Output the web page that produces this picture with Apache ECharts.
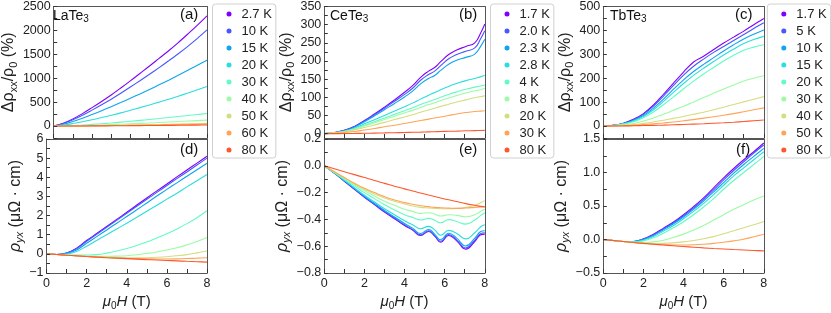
<!DOCTYPE html>
<html><head><meta charset="utf-8">
<script src="https://cdn.jsdelivr.net/npm/echarts@6/dist/echarts.min.js"></script>
<style>html,body{margin:0;padding:0;background:#fff}#c{width:831px;height:313px}</style>
</head><body><div id="c"></div>
<script>
// ---------- data ----------
const COLORS = ['#8000ff','#4757fb','#0ea4f0','#2bdddd','#63fbc3','#9cfba4','#d4dd80','#ffa457','#ff572c'];

const FIELD = [0,0.5,1,1.5,2,2.5,3,3.5,4,4.5,5,5.5,6,6.5,7,7.5,8];
const FIELD_CE = [0,0.5,1,1.5,2,2.5,3,3.5,4,4.4,4.8,5.2,5.5,5.8,6.2,6.6,7.05,7.5,7.8,8];

// LaTe3
const TEMPS_LA = ['2.7 K','10 K','15 K','20 K','30 K','40 K','50 K','60 K','80 K'];
const MR_LA_2p7 = [0,60,150,260,385,515,650,795,945,1100,1255,1415,1575,1745,1925,2110,2305];
const MR_LA_10  = [0,52,130,225,333,445,562,686,815,948,1083,1222,1365,1512,1667,1833,2010];
const MR_LA_15  = [0,38,95,163,240,320,403,490,580,672,766,862,960,1062,1166,1272,1378];
const MR_LA_20  = [0,20,52,90,132,177,225,275,330,385,442,500,560,625,690,757,826];
const MR_LA_30  = [0,4,12,22,35,49,64,81,99,118,138,158,180,200,220,241,262];
const MR_LA_40  = [0,1.5,5,10,15,22,30,38,46,55,64,74,84,94,104,114,124];
const MR_LA_50  = [0,0.6,2,4,7,10,13,17,21,25,29,33,38,42,47,51,56];
const MR_LA_60  = [0,0.5,2,3,5,7,9,11,14,17,20,23,26,29,33,36,40];
const MR_LA_80  = [0,0.2,1,2,3,4,5,6.5,8,9.5,11,12.5,14,16,18,20,22];

const HALL_LA_2p7 = [0,-0.03,0.05,0.3,0.7,1.06,1.43,1.8,2.17,2.55,2.92,3.29,3.65,4.02,4.38,4.74,5.1];
const HALL_LA_10  = [0,-0.03,0.04,0.27,0.66,1.02,1.39,1.75,2.12,2.49,2.85,3.21,3.57,3.93,4.28,4.64,5.0];
const HALL_LA_15  = [0,-0.03,0.02,0.2,0.55,0.9,1.25,1.6,1.95,2.3,2.66,3.02,3.37,3.71,4.05,4.39,4.73];
const HALL_LA_20  = [0,-0.035,-0.01,0.12,0.4,0.7,1.0,1.3,1.6,1.91,2.23,2.54,2.86,3.17,3.5,3.82,4.15];
const HALL_LA_30  = [0,-0.035,-0.06,-0.065,-0.06,-0.04,0.04,0.15,0.28,0.44,0.62,0.83,1.05,1.3,1.58,1.89,2.25];
const HALL_LA_40  = [0,-0.035,-0.065,-0.09,-0.11,-0.125,-0.13,-0.12,-0.1,-0.05,0.02,0.1,0.2,0.32,0.47,0.64,0.85];
const HALL_LA_50  = [0,-0.035,-0.07,-0.1,-0.13,-0.16,-0.185,-0.2,-0.21,-0.21,-0.2,-0.18,-0.15,-0.1,-0.04,0.05,0.15];
const HALL_LA_60  = [0,-0.035,-0.07,-0.1,-0.135,-0.165,-0.19,-0.215,-0.235,-0.25,-0.26,-0.265,-0.265,-0.26,-0.245,-0.225,-0.2];
const HALL_LA_80  = [0,-0.035,-0.07,-0.105,-0.14,-0.17,-0.2,-0.225,-0.25,-0.275,-0.3,-0.32,-0.345,-0.365,-0.39,-0.41,-0.43];

// CeTe3
const TEMPS_CE = ['1.7 K','2.0 K','2.3 K','2.8 K','4 K','8 K','20 K','30 K','80 K'];
const MR_CE_1p7 = [0,3,9,20,36,54,73,93,114,132,155,172,182,198,218,230,240,250,278,302];
const MR_CE_2p0 = [0,3,9,19,35,52,70,89,108,125,147,163,172,187,206,218,227,236,262,283];
const MR_CE_2p3 = [0,3,8,18,33,49,66,83,101,117,137,152,160,174,191,202,210,219,241,260];
const MR_CE_2p8 = [0,2,7,15,27,38,50,62,74,84,95,106,113,121,130,138,146,152,157,160];
const MR_CE_4   = [0,2,6,13,23,33,43,53,63,71,80,88,94,100,108,115,122,128,131,134];
const MR_CE_8   = [0,2,6,12,21,30,39,48,57,64,72,80,85,91,98,105,112,118,121,124];
const MR_CE_20  = [0,2,5,10,17,24,31,39,46,52,59,65,70,75,81,87,93,99,102,104];
const MR_CE_30  = [0,1,3,6,10,14,19,23,28,32,36,40,43,46,50,54,58,61,62,63];
const MR_CE_80  = [0,0.1,0.3,0.6,1,1.5,2,2.6,3.2,3.7,4.2,4.8,5.3,5.8,6.4,7,7.8,8.4,8.8,9];

const HALL_CE_1p7 = [0,-0.055,-0.115,-0.175,-0.235,-0.29,-0.345,-0.395,-0.445,-0.48,-0.52,-0.49,-0.525,-0.57,-0.52,-0.56,-0.622,-0.565,-0.515,-0.51];
const HALL_CE_2p0 = [0,-0.055,-0.113,-0.172,-0.232,-0.287,-0.34,-0.39,-0.44,-0.475,-0.515,-0.485,-0.52,-0.563,-0.513,-0.553,-0.613,-0.555,-0.505,-0.5];
const HALL_CE_2p3 = [0,-0.054,-0.11,-0.168,-0.227,-0.28,-0.333,-0.382,-0.43,-0.465,-0.505,-0.475,-0.51,-0.552,-0.503,-0.54,-0.598,-0.54,-0.49,-0.485];
const HALL_CE_2p8 = [0,-0.053,-0.108,-0.164,-0.22,-0.27,-0.32,-0.365,-0.41,-0.44,-0.47,-0.452,-0.478,-0.518,-0.482,-0.505,-0.545,-0.5,-0.455,-0.44];
const HALL_CE_4   = [0,-0.05,-0.1,-0.15,-0.2,-0.245,-0.29,-0.33,-0.365,-0.385,-0.405,-0.392,-0.407,-0.425,-0.402,-0.415,-0.435,-0.405,-0.37,-0.35];
const HALL_CE_8   = [0,-0.048,-0.095,-0.14,-0.185,-0.225,-0.265,-0.295,-0.325,-0.34,-0.355,-0.35,-0.36,-0.375,-0.365,-0.37,-0.38,-0.365,-0.34,-0.325];
const HALL_CE_20  = [0,-0.045,-0.09,-0.135,-0.175,-0.21,-0.24,-0.265,-0.285,-0.3,-0.31,-0.315,-0.318,-0.32,-0.32,-0.318,-0.31,-0.295,-0.275,-0.26];
const HALL_CE_30  = [0,-0.045,-0.088,-0.13,-0.168,-0.2,-0.23,-0.255,-0.275,-0.287,-0.298,-0.305,-0.31,-0.313,-0.316,-0.318,-0.315,-0.31,-0.307,-0.305];
const HALL_CE_80  = [0,-0.022,-0.044,-0.066,-0.088,-0.11,-0.131,-0.152,-0.172,-0.188,-0.203,-0.218,-0.229,-0.24,-0.254,-0.267,-0.282,-0.295,-0.303,-0.308];

// TbTe3
const TEMPS_TB = ['1.7 K','5 K','10 K','15 K','20 K','30 K','40 K','50 K','80 K'];
const MR_TB_1p7 = [0,3,12,28,52,88,133,180,226,268,292,320,347,372,397,424,450];
const MR_TB_5   = [0,3,11,26,49,83,125,170,213,250,280,308,333,358,383,408,432];
const MR_TB_10  = [0,3,10,23,44,75,113,154,193,228,258,286,314,340,364,384,402];
const MR_TB_15  = [0,2,9,21,40,68,103,141,178,212,242,270,297,322,345,362,375];
const MR_TB_20  = [0,2,8,18,35,59,89,122,156,188,218,245,272,296,317,330,340];
const MR_TB_30  = [0,1,5,11,21,34,49,66,83,101,119,137,155,172,188,200,210];
const MR_TB_40  = [0,1,3,6,11,17,24,32,40,49,58,68,79,90,101,112,123];
const MR_TB_50  = [0,0.5,1.5,3,6,9,13,17,22,27,33,39,45,52,60,68,76];
const MR_TB_80  = [0,0.2,0.6,1.2,2,3,4,5.2,6.5,8,9.5,11.5,13.5,16,19,22,25];

const HALL_TB_1p7 = [0,-0.015,-0.03,-0.03,0.01,0.08,0.17,0.26,0.37,0.49,0.62,0.77,0.92,1.06,1.19,1.31,1.44];
const HALL_TB_5   = [0,-0.015,-0.03,-0.03,0.005,0.07,0.16,0.25,0.355,0.47,0.6,0.74,0.89,1.03,1.16,1.29,1.41];
const HALL_TB_10  = [0,-0.015,-0.03,-0.032,0,0.06,0.145,0.235,0.335,0.45,0.575,0.71,0.85,0.99,1.12,1.24,1.36];
const HALL_TB_15  = [0,-0.015,-0.03,-0.035,-0.01,0.045,0.125,0.21,0.31,0.42,0.54,0.67,0.81,0.95,1.07,1.19,1.31];
const HALL_TB_20  = [0,-0.015,-0.03,-0.038,-0.02,0.025,0.095,0.175,0.265,0.37,0.485,0.61,0.75,0.88,1.0,1.12,1.24];
const HALL_TB_30  = [0,-0.015,-0.03,-0.042,-0.045,-0.035,-0.01,0.03,0.08,0.14,0.21,0.29,0.37,0.45,0.52,0.59,0.65];
const HALL_TB_40  = [0,-0.015,-0.03,-0.045,-0.055,-0.06,-0.058,-0.05,-0.035,-0.015,0.01,0.045,0.085,0.13,0.175,0.22,0.27];
const HALL_TB_50  = [0,-0.015,-0.03,-0.045,-0.06,-0.07,-0.078,-0.082,-0.082,-0.078,-0.07,-0.058,-0.04,-0.02,0.005,0.04,0.078];
const HALL_TB_80  = [0,-0.015,-0.03,-0.045,-0.058,-0.07,-0.082,-0.094,-0.105,-0.115,-0.125,-0.134,-0.142,-0.15,-0.157,-0.164,-0.17];

// tick labels
const X_LABELS = [0,2,4,6,8];
const Y_LABELS_A = [0,500,1000,1500,2000,2500];
const Y_LABELS_B = [0,50,100,150,200,250,300,350];
const Y_TICKS_B  = [0,25,50,75,100,125,150,175,200,225,250,275,300,325,350];
const Y_LABELS_C = [0,100,200,300,400,500];
const Y_LABELS_D = [-1,0,1,2,3,4,5,6];
const Y_LABELS_E = [-0.8,-0.6,-0.4,-0.2,0,0.2];
const Y_LABELS_F = [-0.5,0,0.5,1,1.5];

// ---------- chart ----------
const FONT = 'Liberation Sans, Arial, sans-serif';
const AXIS_COLOR = '#555';
const TICK_COLOR = '#333';
const TXT = '#222';
const PANEL_W = 160.5, LEFTS = [46.5, 324.3, 603.3];
const UP_TOP = 5, UP_H = 133, LO_TOP = 139, LO_H = 134;

const grids = [];
LEFTS.forEach(l => {
  grids.push({left: l, top: UP_TOP, width: PANEL_W, height: UP_H, show: false});
  grids.push({left: l, top: LO_TOP, width: PANEL_W, height: LO_H, show: false});
});

const minus = s => String(s).replace('-', '\u2212');
const nameRich = {
  r: {fontSize: 16, fontFamily: FONT, color: TXT, lineHeight: 20},
  i: {fontSize: 16, fontFamily: FONT, color: TXT, fontStyle: 'italic', lineHeight: 20},
  s: {fontSize: 11, fontFamily: FONT, color: TXT, verticalAlign: 'bottom', lineHeight: 13},
  si: {fontSize: 11, fontFamily: FONT, color: TXT, fontStyle: 'italic', verticalAlign: 'bottom', lineHeight: 13}
};
const xRich = {
  r: {fontSize: 15, fontFamily: FONT, color: TXT, lineHeight: 19},
  i: {fontSize: 15, fontFamily: FONT, color: TXT, fontStyle: 'italic', lineHeight: 19},
  s: {fontSize: 10, fontFamily: FONT, color: TXT, verticalAlign: 'bottom', lineHeight: 12}
};
const frameLine = {show: true, onZero: false, lineStyle: {color: AXIS_COLOR, width: 1}};

const xAxes = [], yAxes = [];
for (let g = 0; g < 6; g++) {
  const lower = g % 2 === 1;
  xAxes.push({
    type: 'value', gridIndex: g, min: 0, max: 8, interval: 1, position: 'bottom', z: 10,
    axisLine: frameLine, splitLine: {show: false},
    axisTick: {show: true, inside: true, length: 4, lineStyle: {color: TICK_COLOR, width: 1}},
    axisLabel: {show: lower, color: TXT, fontSize: 12.5, fontFamily: FONT, margin: 4,
      formatter: v => (X_LABELS.indexOf(v) >= 0 ? String(v) : '')},
    name: lower ? '{i|\u03bc}{s|0}{i|H}{r| (T)}' : '',
    nameLocation: 'middle', nameGap: 19,
    nameTextStyle: {rich: xRich}
  });
  xAxes.push({
    type: 'value', gridIndex: g, min: 0, max: 8, interval: 1, position: 'top', z: 10,
    axisLine: frameLine, splitLine: {show: false},
    axisTick: {show: false}, axisLabel: {show: false}
  });
}
const yDefs = [
  {min: -250, max: 2500, iv: 250, labels: Y_LABELS_A, dec: 0, up: true, gap: 28},
  {min: -1, max: 6, iv: 0.5, labels: Y_LABELS_D, dec: 0, up: false, gap: 18},
  {min: -12, max: 350, iv: null, labels: Y_LABELS_B, ticks: Y_TICKS_B, dec: 0, up: true, gap: 23},
  {min: -0.8, max: 0.2, iv: 0.1, labels: Y_LABELS_E, dec: 1, up: false, gap: 29},
  {min: -50, max: 500, iv: 50, labels: Y_LABELS_C, dec: 0, up: true, gap: 23},
  {min: -0.5, max: 1.5, iv: 0.25, labels: Y_LABELS_F, dec: 1, up: false, gap: 29}
];
const isLabel = (v, arr) => arr.some(a => Math.abs(a - v) < 1e-6);
yDefs.forEach((d, g) => {
  const ax = {
    type: 'value', gridIndex: g, min: d.min, max: d.max, position: 'left', z: 10,
    axisLine: frameLine, splitLine: {show: false},
    axisTick: {show: true, inside: true, length: 3.5, lineStyle: {color: TICK_COLOR, width: 1}},
    axisLabel: {show: true, color: TXT, fontSize: 12.5, fontFamily: FONT, margin: 3,
      formatter: v => isLabel(v, d.labels) ? minus(Number(v).toFixed(d.dec)) : ''},
    name: d.up ? '{r|\u0394\u03c1}{s|xx}{r|/\u03c1}{s|0}{r| (%)}' : '{i|\u03c1}{si|yx}{r| (\u03bc\u03a9 \u00b7 cm)}',
    nameLocation: 'middle', nameRotate: 90, nameGap: d.gap,
    nameTextStyle: {rich: nameRich}
  };
  if (d.iv) { ax.interval = d.iv; }
  else {
    ax.axisTick.customValues = d.ticks;
    ax.axisLabel.customValues = d.labels;
  }
  yAxes.push(ax);
  yAxes.push({
    type: 'value', gridIndex: g, min: d.min, max: d.max, position: 'right', z: 10,
    axisLine: frameLine, splitLine: {show: false},
    axisTick: {show: false}, axisLabel: {show: false}
  });
});

const pair = (xs, ys) => ys.map((y, i) => [xs[i], y]);
const series = [];
function addSeries(prefix, temps, xs, arrays, gridIdx, smooth) {
  arrays.forEach((ys, i) => {
    series.push({
      name: prefix + '|' + temps[i], type: 'line', xAxisIndex: 2 * gridIdx, yAxisIndex: 2 * gridIdx,
      data: pair(xs, ys), showSymbol: false, symbol: 'none', smooth: smooth,
      lineStyle: {width: 1.1, color: COLORS[i]}, itemStyle: {color: COLORS[i]}, z: 2
    });
  });
}
addSeries('a', TEMPS_LA, FIELD, [MR_LA_2p7,MR_LA_10,MR_LA_15,MR_LA_20,MR_LA_30,MR_LA_40,MR_LA_50,MR_LA_60,MR_LA_80], 0, 0.35);
addSeries('d', TEMPS_LA, FIELD, [HALL_LA_2p7,HALL_LA_10,HALL_LA_15,HALL_LA_20,HALL_LA_30,HALL_LA_40,HALL_LA_50,HALL_LA_60,HALL_LA_80], 1, 0.35);
addSeries('b', TEMPS_CE, FIELD_CE, [MR_CE_1p7,MR_CE_2p0,MR_CE_2p3,MR_CE_2p8,MR_CE_4,MR_CE_8,MR_CE_20,MR_CE_30,MR_CE_80], 2, 0.5);
addSeries('e', TEMPS_CE, FIELD_CE, [HALL_CE_1p7,HALL_CE_2p0,HALL_CE_2p3,HALL_CE_2p8,HALL_CE_4,HALL_CE_8,HALL_CE_20,HALL_CE_30,HALL_CE_80], 3, 0.5);
addSeries('c', TEMPS_TB, FIELD, [MR_TB_1p7,MR_TB_5,MR_TB_10,MR_TB_15,MR_TB_20,MR_TB_30,MR_TB_40,MR_TB_50,MR_TB_80], 4, 0.35);
addSeries('f', TEMPS_TB, FIELD, [HALL_TB_1p7,HALL_TB_5,HALL_TB_10,HALL_TB_15,HALL_TB_20,HALL_TB_30,HALL_TB_40,HALL_TB_50,HALL_TB_80], 5, 0.35);

function legend(prefix, temps, left) {
  return {
    left: left, top: 4, orient: 'vertical', icon: 'circle', itemWidth: 5, itemHeight: 5, itemGap: 3,
    padding: [3, 4, 1, 14], borderColor: '#d0d0d0', borderWidth: 1, borderRadius: 3, backgroundColor: '#fff',
    data: temps.map(t => prefix + '|' + t),
    formatter: n => n.split('|')[1],
    textStyle: {fontSize: 13, fontFamily: FONT, color: TXT, lineHeight: 14, padding: [0, 0, 0, 5]},
    selectedMode: false
  };
}

const subRich = {
  r: {fontSize: 14, fontFamily: FONT, fill: '#111', lineHeight: 17},
  s: {fontSize: 10, fontFamily: FONT, fill: '#111', verticalAlign: 'bottom', lineHeight: 11}
};
const txt = (x, y, text, size) => ({type: 'text', left: x, top: y, z: 100,
  style: {text: text, fontSize: size, fontFamily: FONT, fill: '#111', rich: subRich}});

const option = {
  animation: false,
  backgroundColor: '#fff',
  grid: grids, xAxis: xAxes, yAxis: yAxes, series: series,
  legend: [legend('a', TEMPS_LA, 212.5), legend('b', TEMPS_CE, 490.5), legend('c', TEMPS_TB, 767.3)],
  graphic: [
    txt(53, 9, '{r|LaTe}{s|3}', 14), txt(330, 9, '{r|CeTe}{s|3}', 14), txt(610, 9, '{r|TbTe}{s|3}', 14),
    txt(180, 7, '(a)', 15), txt(459, 7, '(b)', 15), txt(735, 7, '(c)', 15),
    txt(180, 142, '(d)', 15), txt(459, 142, '(e)', 15), txt(736, 142, '(f)', 15)
  ]
};
const chart = echarts.init(document.getElementById('c'), null, {renderer: 'canvas'});
chart.setOption(option);
</script></body></html>
